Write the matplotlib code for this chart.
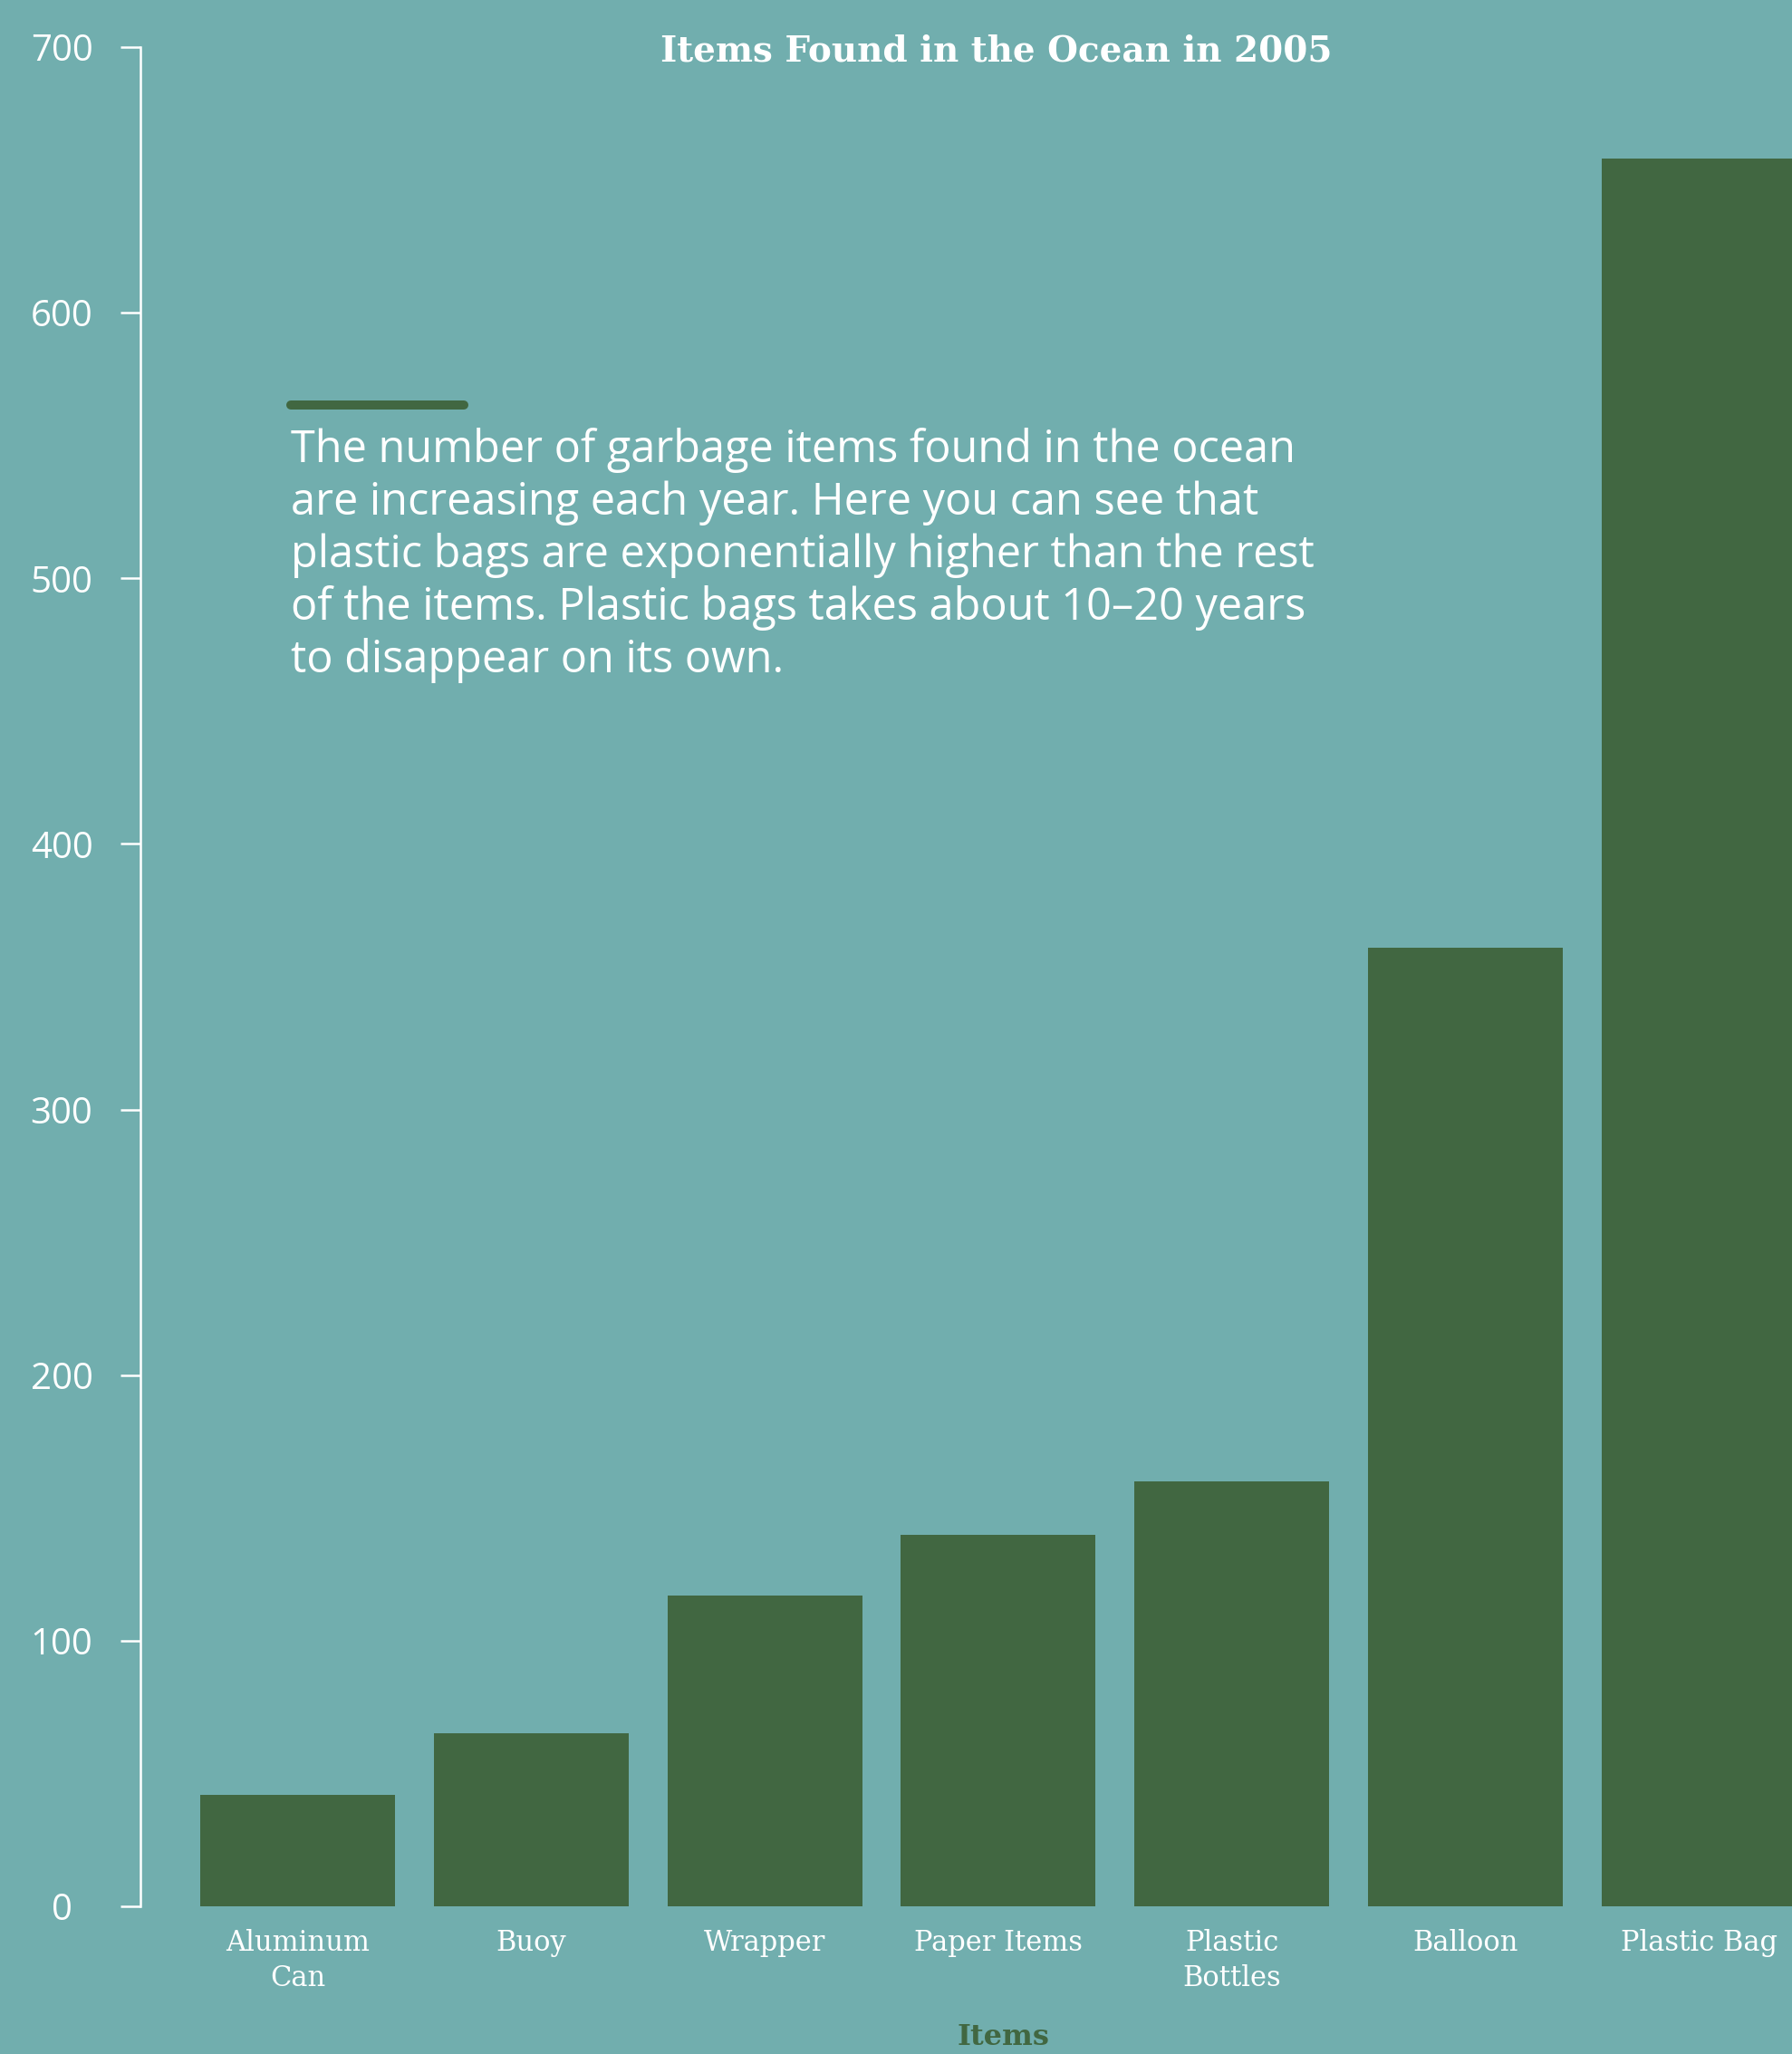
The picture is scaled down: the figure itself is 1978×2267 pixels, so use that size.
import matplotlib.pyplot as plt
from matplotlib.lines import Line2D

# data
items = ['Aluminum\nCan', 'Buoy', 'Wrapper', 'Paper Items',
         'Plastic\nBottles', 'Balloon', 'Plastic Bag']
counts = [42, 65, 117, 140, 160, 361, 658]
y_ticks = [0, 100, 200, 300, 400, 500, 600, 700]

title = 'Items Found in the Ocean in 2005'
x_title = 'Items'
note_lines = ['The number of garbage items found in the ocean',
              'are increasing each year. Here you can see that',
              'plastic bags are exponentially higher than the rest',
              'of the items. Plastic bags takes about 10\u201320 years',
              'to disappear on its own.']

bg = '#71aeae'
green = '#416741'
W, H = 1978, 2267

fig = plt.figure(figsize=(W / 100, H / 100), dpi=100, facecolor=bg)
ax = fig.add_axes([155 / W, 1 - 2104 / H, 1 - 155 / W, (2104 - 52) / H])
ax.set_facecolor(bg)

x = list(range(len(items)))
ax.bar(x, counts, width=0.834, color=green)
ax.set_xlim(-0.673, 6.398)
ax.set_ylim(0, 700)

for s in ['top', 'right', 'bottom']:
    ax.spines[s].set_visible(False)
ax.spines['left'].set_color('white')
ax.spines['left'].set_linewidth(1.8)

ax.set_yticks(y_ticks)
ax.tick_params(axis='y', length=15.8, width=1.8, color='white', pad=46.8,
               labelsize=29, labelcolor='white')
for lab in ax.get_yticklabels():
    lab.set_ha('center')
    lab.set_fontfamily('Open Sans')

ax.set_xticks(x)
ax.set_xticklabels(items, fontfamily='DejaVu Serif', linespacing=1.35)
ax.tick_params(axis='x', length=0, pad=18, labelsize=22, labelcolor='white')

fig.text(1100 / W, 1 - 67 / H, title, ha='center', va='baseline',
         fontsize=28, fontweight='bold', family='DejaVu Serif', color='white')

fig.text(1107 / W, 1 - 2257 / H, x_title, ha='center', va='baseline',
         fontsize=23, fontweight='bold', family='DejaVu Serif', color=green)

# note with the short bar above it
fig.add_artist(Line2D([321 / W, 512 / W], [1 - 447 / H, 1 - 447 / H],
                      transform=fig.transFigure, color=green, lw=7.2,
                      solid_capstyle='round'))
for i, line in enumerate(note_lines):
    fig.text(321 / W, 1 - (510 + 58 * i) / H, line, ha='left', va='baseline',
             fontsize=35, family='Open Sans', color='white')

fig.savefig('out.png', dpi=100, facecolor=bg)
